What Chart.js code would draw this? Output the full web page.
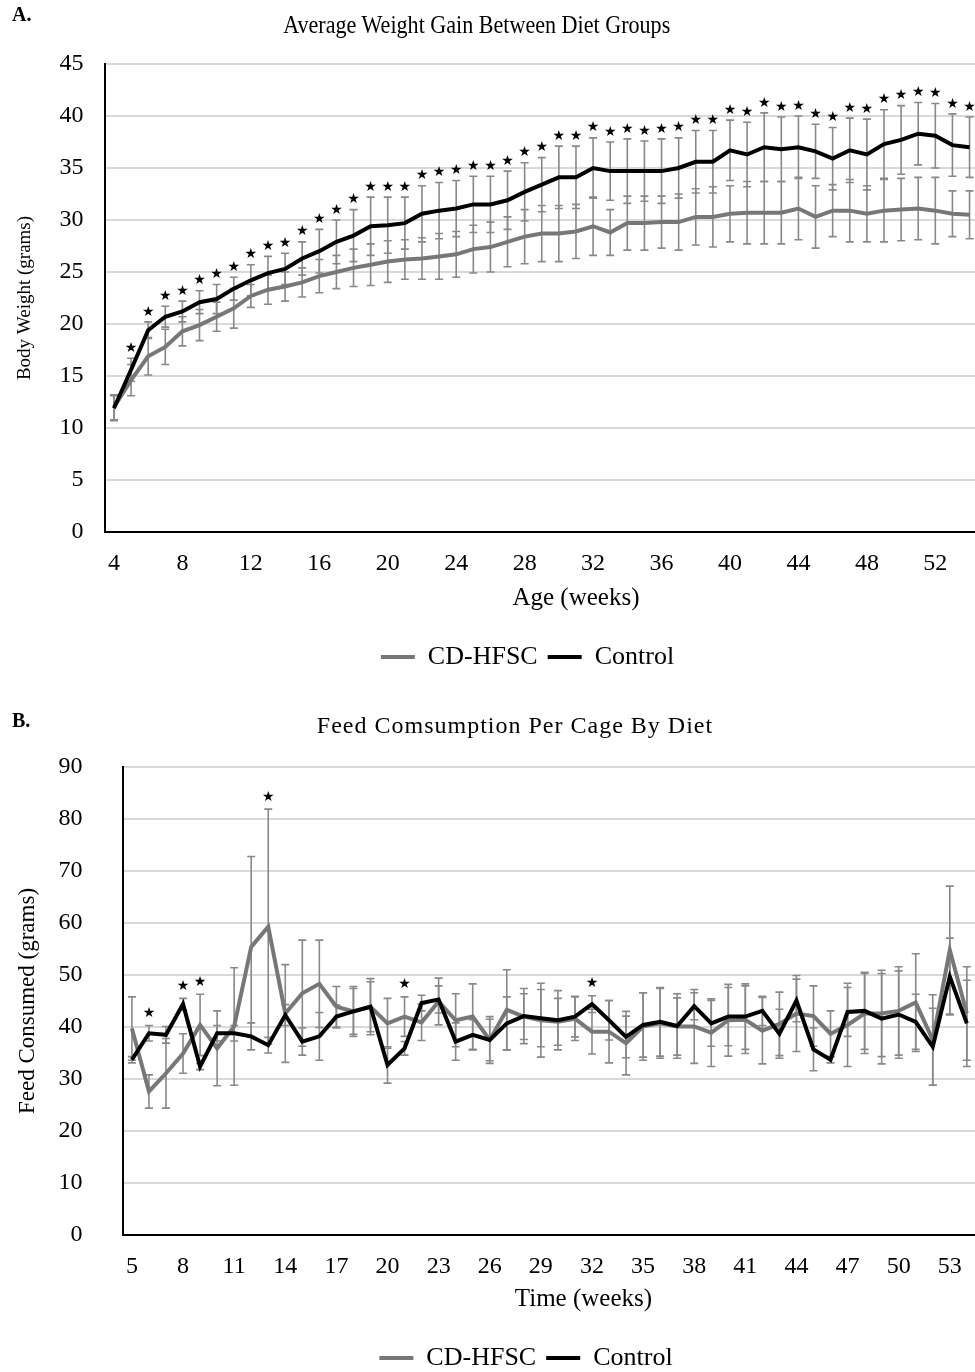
<!DOCTYPE html>
<html>
<head>
<meta charset="utf-8">
<script src="https://cdn.jsdelivr.net/npm/chart.js@4.4.1/dist/chart.umd.min.js"></script>
<style>
  html, body { margin: 0; padding: 0; background: #fff; overflow: hidden; width: 975px; height: 1372px; }
  body { position: relative; font-family: "Liberation Serif", "Times New Roman", serif; color: #000; }
  canvas { position: absolute; left: 0; }
  .panel { position: absolute; left: 12px; font-size: 20px; font-weight: bold; z-index: 2; }
  .title { position: absolute; left: 0; text-align: center; z-index: 2; white-space: nowrap; }
  .title span { display: inline-block; }
</style>
</head>
<body>
<div class="panel" style="top:3px">A.</div>
<div class="title" style="top:10px; width:954px; font-size:26px;"><span style="transform:scaleX(0.85)">Average Weight Gain Between Diet Groups</span></div>
<canvas id="weightChart" width="1055" height="690" style="top:0"></canvas>

<div class="panel" style="top:709px">B.</div>
<div class="title" style="top:712px; width:1030px; font-size:24px; letter-spacing:1px;"><span>Feed Comsumption Per Cage By Diet</span></div>
<canvas id="feedChart" width="1052" height="681" style="top:700px"></canvas>

<script>
// --- A: body weight, weeks 4-54 (axis runs on past the cropped edge) ---
const ageWeeks = [4, 5, 6, 7, 8, 9, 10, 11, 12, 13, 14, 15, 16, 17, 18, 19, 20, 21, 22, 23, 24, 25, 26, 27, 28, 29,
  30, 31, 32, 33, 34, 35, 36, 37, 38, 39, 40, 41, 42, 43, 44, 45, 46, 47, 48, 49, 50, 51, 52, 53, 54, 55, 56, 57, 58];
const cdWeight = [12.0, 14.6, 16.9, 17.8, 19.3, 19.9, 20.7, 21.5, 22.7, 23.3,
  23.6, 24.0, 24.6, 25.0, 25.4, 25.7, 26.0, 26.2, 26.3, 26.5,
  26.7, 27.2, 27.4, 27.9, 28.4, 28.7, 28.7, 28.9, 29.4, 28.8,
  29.7, 29.7, 29.8, 29.8, 30.3, 30.3, 30.6, 30.7, 30.7, 30.7,
  31.1, 30.3, 30.9, 30.9, 30.6, 30.9, 31.0, 31.1, 30.9, 30.6, 30.5];
const ctlWeight = [11.9, 15.6, 19.4, 20.7, 21.2, 22.1, 22.4, 23.4, 24.2, 24.9,
  25.3, 26.3, 27.0, 27.9, 28.5, 29.4, 29.5, 29.7, 30.6, 30.9,
  31.1, 31.5, 31.5, 31.9, 32.7, 33.4, 34.1, 34.1, 35.0, 34.7,
  34.7, 34.7, 34.7, 35.0, 35.6, 35.6, 36.7, 36.3, 37.0, 36.8,
  37.0, 36.6, 35.9, 36.7, 36.3, 37.3, 37.7, 38.3, 38.1, 37.2, 37.0];
const cdWeightSd = [1.2, 1.5, 1.8, 1.7, 1.4, 1.5, 1.4, 1.9, 1.1, 1.4,
  1.4, 1.4, 1.6, 1.6, 1.8, 2.0, 2.0, 1.9, 2.0, 2.2,
  2.2, 2.3, 2.4, 2.4, 2.6, 2.7, 2.7, 2.6, 2.8, 2.2,
  2.6, 2.6, 2.5, 2.7, 2.7, 2.9, 2.7, 3.0, 3.0, 3.0,
  3.0, 3.0, 2.5, 3.0, 2.7, 3.0, 3.0, 3.0, 3.2, 2.2, 2.3];
const ctlWeightSd = [1.2, 1.1, 0.8, 1.0, 1.0, 1.1, 1.4, 1.1, 1.5, 1.6,
  1.5, 1.6, 2.1, 2.1, 2.5, 2.8, 2.7, 2.5, 2.7, 2.7,
  2.7, 2.7, 2.7, 2.8, 2.8, 2.6, 3.0, 3.0, 2.9, 2.8,
  3.1, 2.9, 3.1, 2.9, 3.0, 3.0, 2.9, 3.1, 3.3, 3.1,
  3.0, 2.6, 3.0, 3.1, 3.4, 3.3, 3.3, 3.0, 3.1, 3.0, 2.9];
const weightStars = [5, 6, 7, 8, 9, 10, 11, 12, 13, 14, 15, 16, 17, 18, 19, 20, 21, 22, 23, 24, 25, 26, 27, 28, 29,
  30, 31, 32, 33, 34, 35, 36, 37, 38, 39, 40, 41, 42, 43, 44, 45, 46, 47, 48, 49, 50, 51, 52, 53, 54];

// --- B: feed consumed per cage, weeks 5-54 ---
const feedWeeks = [5, 6, 7, 8, 9, 10, 11, 12, 13, 14, 15, 16, 17, 18, 19, 20, 21, 22, 23, 24, 25, 26, 27, 28, 29,
  30, 31, 32, 33, 34, 35, 36, 37, 38, 39, 40, 41, 42, 43, 44, 45, 46, 47, 48, 49, 50, 51, 52, 53, 54, 55, 56, 57, 58];
const cdFeed = [39.7, 27.6, 31.1, 34.9, 40.4, 35.9, 40.1, 55.4, 59.3, 42.6,
  46.5, 48.3, 43.9, 43.0, 43.9, 40.7, 42.0, 40.9, 44.9, 41.3,
  42.0, 37.5, 43.3, 42.0, 41.3, 41.0, 41.6, 39.1, 39.1, 36.9,
  40.1, 40.7, 40.1, 40.1, 38.9, 41.3, 41.4, 39.3, 40.6, 42.6,
  42.1, 38.7, 40.4, 42.6, 42.6, 43.1, 44.7, 37.5, 54.8, 42.6];
const ctlFeed = [33.7, 38.8, 38.5, 44.4, 32.4, 38.8, 38.8, 38.2, 36.5, 42.3,
  37.2, 38.2, 42.0, 43.0, 43.9, 32.7, 35.9, 44.6, 45.3, 37.2,
  38.5, 37.5, 40.7, 42.1, 41.7, 41.3, 42.0, 44.4, 41.3, 38.1,
  40.4, 41.0, 40.2, 44.0, 40.7, 42.0, 42.0, 43.1, 38.7, 45.1,
  35.7, 33.7, 42.9, 43.1, 41.6, 42.4, 41.0, 36.2, 49.7, 40.7];
const cdFeedSd = [6.1, 3.2, 6.7, 3.8, 5.9, 7.2, 11.3, 17.4, 22.6, 9.4,
  10.2, 8.4, 3.9, 4.4, 4.8, 4.8, 3.8, 3.5, 4.5, 5.1,
  6.3, 4.0, 7.7, 4.4, 7.1, 4.5, 4.2, 4.3, 6.0, 6.1,
  6.5, 6.7, 5.5, 7.1, 6.5, 6.9, 6.5, 6.4, 6.1, 7.3,
  5.8, 4.4, 8.0, 7.7, 8.3, 8.5, 9.4, 8.7, 12.3, 9.0];
const ctlFeedSd = [0.6, 1.5, 1.6, 1.1, 0.6, 1.5, 1.5, 2.6, 1.5, 2.0,
  2.6, 4.6, 2.2, 4.8, 5.4, 3.5, 1.3, 1.5, 2.6, 3.6,
  2.9, 4.5, 5.1, 5.3, 5.5, 5.7, 3.9, 1.6, 3.8, 4.0,
  6.2, 6.6, 6.2, 2.6, 4.4, 5.6, 6.3, 2.8, 4.7, 4.1,
  4.1, 0.6, 4.7, 7.4, 8.7, 8.4, 5.3, 7.4, 7.4, 8.3];
const feedStars = [6, 8, 9, 13, 21, 32];

Chart.defaults.font.family = '"Liberation Serif", "Times New Roman", serif';
Chart.defaults.color = "#000";

const GREY = "#777777";
const BAR_GREY = "#888888";

// error bars under the lines, significance stars above the highest bar
const errorBars = {
  id: "errorBars",
  beforeDatasetsDraw(chart, args, opts) {
    const { ctx, scales: { x, y } } = chart;
    ctx.save();
    ctx.strokeStyle = BAR_GREY;
    ctx.lineWidth = 1.6;
    chart.data.datasets.forEach((ds, di) => {
      opts.sd[di].forEach((sd, i) => {
        const v = ds.data[i];
        const px = x.getPixelForValue(i);
        const top = y.getPixelForValue(v + sd);
        const bot = y.getPixelForValue(v - sd);
        ctx.beginPath();
        ctx.moveTo(px, top); ctx.lineTo(px, bot);
        ctx.moveTo(px - 4, top); ctx.lineTo(px + 4, top);
        ctx.moveTo(px - 4, bot); ctx.lineTo(px + 4, bot);
        ctx.stroke();
      });
    });
    ctx.restore();
  },
  afterDatasetsDraw(chart, args, opts) {
    const { ctx, scales: { x, y } } = chart;
    const labels = chart.data.labels;
    ctx.save();
    ctx.fillStyle = "#000";
    ctx.font = "14px 'DejaVu Sans'";
    ctx.textAlign = "center";
    ctx.textBaseline = "middle";
    opts.stars.forEach(week => {
      const i = labels.indexOf(week);
      let top = -Infinity;
      chart.data.datasets.forEach((ds, di) => {
        top = Math.max(top, ds.data[i] + opts.sd[di][i]);
      });
      ctx.fillText("★", x.getPixelForValue(i), y.getPixelForValue(top) - opts.gap);
    });
    ctx.restore();
  }
};

function makeChart(id, cfg) {
  return new Chart(document.getElementById(id), {
    type: "line",
    plugins: [errorBars],
    data: {
      labels: cfg.labels,
      datasets: [
        { label: "CD-HFSC", data: cfg.cd, borderColor: GREY, backgroundColor: GREY, borderWidth: 4, pointRadius: 0, tension: 0, order: 2 },
        { label: "Control", data: cfg.ctl, borderColor: "#000", backgroundColor: "#000", borderWidth: 4, pointRadius: 0, tension: 0, order: 1 }
      ]
    },
    options: {
      responsive: false,
      animation: false,
      layout: { padding: cfg.padding },
      plugins: {
        tooltip: { enabled: false },
        errorBars: { sd: cfg.sd, stars: cfg.stars, gap: cfg.starGap },
        legend: {
          position: "bottom",
          labels: {
            usePointStyle: true,
            pointStyle: "line",
            pointStyleWidth: 34,
            padding: 10,
            font: { size: 26 },
            sort: (a, b) => a.datasetIndex - b.datasetIndex
          }
        }
      },
      scales: {
        x: {
          type: "category",
          offset: true,
          grid: { display: true, drawOnChartArea: false, drawTicks: false },
          border: { color: "#000", width: 2 },
          ticks: {
            autoSkip: false,
            maxRotation: 0,
            padding: 17,
            font: { size: 24 },
            callback(v, i) { return i % cfg.every === 0 ? this.getLabelForValue(v) : ""; }
          },
          title: { display: true, text: cfg.xTitle, font: { size: 25 }, padding: { top: 0, bottom: cfg.xTitlePad } },
          afterFit(s) { s.height = cfg.xHeight; }
        },
        y: {
          min: 0,
          max: cfg.yMax,
          grid: { color: "#d9d9d9", lineWidth: 2, drawTicks: false },
          border: { color: "#000", width: 2 },
          ticks: { stepSize: cfg.yStep, padding: cfg.yPad, font: { size: 24 } },
          title: { display: true, text: cfg.yTitle, font: { size: cfg.yTitleSize }, padding: { top: 14, bottom: 0 } },
          afterFit(s) { s.width = cfg.yWidth; }
        }
      }
    }
  });
}

makeChart("weightChart", {
  labels: ageWeeks, cd: cdWeight, ctl: ctlWeight, sd: [cdWeightSd, ctlWeightSd],
  stars: weightStars, starGap: 10, every: 4,
  yMax: 45, yStep: 5, yPad: 22, yWidth: 105.4,
  yTitle: "Body Weight (grams)", yTitleSize: 19,
  xTitle: "Age (weeks)", xTitlePad: 21, xHeight: 102,
  padding: { top: 64, right: 0, bottom: 10, left: 0 }
});

makeChart("feedChart", {
  labels: feedWeeks, cd: cdFeed, ctl: ctlFeed, sd: [cdFeedSd, ctlFeedSd],
  stars: feedStars, starGap: 12, every: 3,
  yMax: 90, yStep: 10, yPad: 41, yWidth: 123.4,
  yTitle: "Feed Consumed (grams)", yTitleSize: 23,
  xTitle: "Time (weeks)", xTitlePad: 21, xHeight: 100,
  padding: { top: 67, right: 0, bottom: 0, left: 0 }
});
</script>
</body>
</html>
